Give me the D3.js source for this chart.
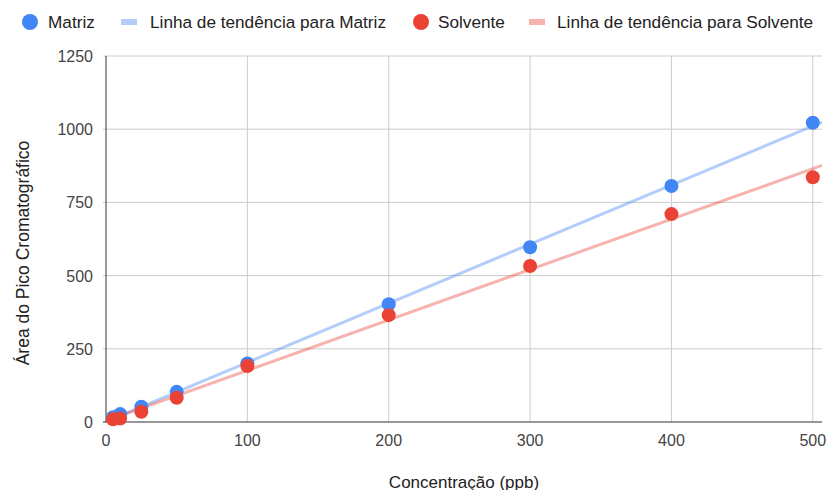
<!DOCTYPE html>
<html><head><meta charset="utf-8">
<script src="https://cdn.jsdelivr.net/npm/d3@7/dist/d3.min.js"></script>
<style>body{margin:0;background:#fff}svg{display:block;font-family:"Liberation Sans",Arial,sans-serif}</style>
</head><body><svg id="c" width="828" height="490"></svg>
<script>
const concentrations = [5, 10, 25, 50, 100, 200, 300, 400, 500];
const matriz = [16, 27, 52, 103, 200, 402, 597, 806, 1022];
const solvente = [9, 12, 35, 83, 191, 365, 533, 710, 836];
const xTicks = [0, 100, 200, 300, 400, 500];
const yTicks = [0, 250, 500, 750, 1000, 1250];
const legendLabels = ["Matriz", "Linha de tendência para Matriz", "Solvente", "Linha de tendência para Solvente"];

const svg = d3.select("#c");
const L = 106, R = 822, T = 56, B = 422;
const xMax = 506.5;
const x = d3.scaleLinear().domain([0, xMax]).range([L, R]);
const y = d3.scaleLinear().domain([0, 1250]).range([B, T]);

// gridlines
svg.append("g").selectAll("line").data(yTicks.filter(d => d > 0)).join("line")
  .attr("x1", L - 3).attr("x2", R).attr("y1", d => y(d)).attr("y2", d => y(d))
  .attr("stroke", "#cccccc").attr("stroke-width", 1);
svg.append("g").selectAll("line").data(xTicks.filter(d => d > 0)).join("line")
  .attr("y1", T).attr("y2", B).attr("x1", d => x(d)).attr("x2", d => x(d))
  .attr("stroke", "#cccccc").attr("stroke-width", 1);

// axes lines
svg.append("line").attr("x1", L).attr("x2", L).attr("y1", T).attr("y2", B).attr("stroke", "#333").attr("stroke-width", 1);
svg.append("line").attr("x1", L - 3).attr("x2", R).attr("y1", B).attr("y2", B).attr("stroke", "#333").attr("stroke-width", 1);

// tick labels
svg.append("g").selectAll("text").data(yTicks).join("text")
  .attr("x", 93).attr("y", d => y(d) + 6).attr("text-anchor", "end")
  .attr("font-size", 16).attr("fill", "#444").text(d => d);
svg.append("g").selectAll("text").data(xTicks).join("text")
  .attr("x", d => x(d)).attr("y", 446).attr("text-anchor", "middle")
  .attr("font-size", 16).attr("fill", "#444").text(d => d);

// axis titles
svg.append("text").attr("x", 464).attr("y", 488).attr("text-anchor", "middle")
  .attr("font-size", 17).attr("fill", "#222").text("Concentração (ppb)");
svg.append("text").attr("transform", `translate(29,253) rotate(-90)`)
  .attr("text-anchor", "middle").attr("font-size", 17.5).attr("fill", "#222").text("Área do Pico Cromatográfico");

// linear regression
function fit(xs, ys) {
  const mx = d3.mean(xs), my = d3.mean(ys);
  let sxy = 0, sxx = 0;
  xs.forEach((v, i) => { sxy += (v - mx) * (ys[i] - my); sxx += (v - mx) ** 2; });
  const m = sxy / sxx;
  return { m, b: my - m * mx };
}
const series = [
  { vals: matriz, color: "#4285F4" },
  { vals: solvente, color: "#EA4335" }
];
const line = d3.line().x(d => x(d[0])).y(d => y(d[1]));
series.forEach(s => {
  const f = fit(concentrations, s.vals);
  svg.append("path").datum([[0, f.b], [xMax, f.m * xMax + f.b]]).attr("d", line)
    .attr("fill", "none").attr("stroke", s.color).attr("stroke-opacity", 0.4).attr("stroke-width", 3);
});
series.forEach(s => {
  svg.append("g").selectAll("circle").data(concentrations).join("circle")
    .attr("cx", d => x(d)).attr("cy", (d, i) => y(s.vals[i])).attr("r", 7).attr("fill", s.color);
});

// legend
const lg = svg.append("g");
const items = [
  { type: "dot", color: "#4285F4", cx: 30, tx: 48 },
  { type: "line", color: "#4285F4", cx: 129, tx: 150 },
  { type: "dot", color: "#EA4335", cx: 421, tx: 438 },
  { type: "line", color: "#EA4335", cx: 537, tx: 557 }
];
items.forEach((it, i) => {
  if (it.type === "dot") lg.append("circle").attr("cx", it.cx).attr("cy", 22).attr("r", 8).attr("fill", it.color);
  else lg.append("rect").attr("x", it.cx - 8).attr("y", 19).attr("width", 16).attr("height", 6).attr("fill", it.color).attr("fill-opacity", 0.4);
  lg.append("text").attr("x", it.tx).attr("y", 28).attr("font-size", 17.2).attr("fill", "#222").text(legendLabels[i]);
});
</script></body></html>
